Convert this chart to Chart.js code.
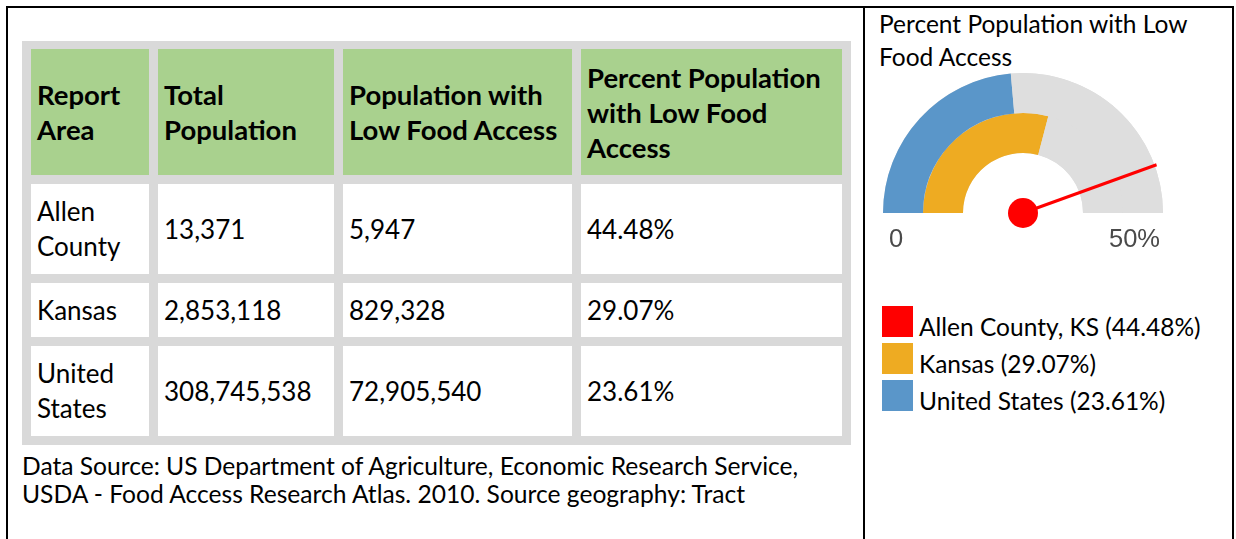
<!DOCTYPE html>
<html>
<head>
<meta charset="utf-8">
<title>Percent Population with Low Food Access</title>
<script src="https://cdn.jsdelivr.net/npm/chart.js@4.4.1/dist/chart.umd.min.js"></script>
<style>
  body { margin: 0; width: 1236px; height: 539px; background: #fff; font-family: Lato, sans-serif; color: #000; position: relative; overflow: hidden; }
  #frame { position: absolute; left: 6px; top: 6px; width: 1228px; height: 540px; border: 2px solid #000; border-bottom: none; box-sizing: border-box; }
  #divider { position: absolute; left: 863px; top: 6px; width: 2px; height: 533px; background: #000; }
  #report { position: absolute; left: 22px; top: 41px; display: grid; grid-template-columns: 118px 176px 229px 261px; grid-template-rows: 126px 90px 54px 90px; gap: 9px; padding: 8px 9px 9px 9px; background: #d9d9d9; }
  #report div { background: #fff; display: flex; align-items: center; padding: 0 6px; font-size: 26px; line-height: 35px; }
  #report div.head { background: #a9d18e; font-weight: 700; font-size: 27.5px; }
  #source { position: absolute; left: 22px; top: 452px; font-size: 24.6px; line-height: 28px; white-space: nowrap; }
  #gauge-title { position: absolute; left: 879px; top: 7px; font-size: 24.5px; line-height: 33px; white-space: nowrap; }
  #gauge-box { position: absolute; left: 866px; top: 8px; width: 366px; height: 250px; }
  #legend { position: absolute; left: 882px; top: 306px; }
  .item { display: flex; height: 31px; margin-bottom: 6px; font-size: 24.5px; line-height: 31px; white-space: nowrap; }
  .swatch { width: 31px; height: 31px; margin-right: 6px; }
  .item span { position: relative; top: 5px; }
</style>
</head>
<body>
<div id="frame"></div>
<div id="divider"></div>
<div id="report"></div>
<div id="source">Data Source: US Department of Agriculture, Economic Research Service,<br>USDA - Food Access Research Atlas. 2010. Source geography: Tract</div>
<div id="gauge-title">Percent Population with Low<br>Food Access</div>
<div id="gauge-box"><canvas id="gauge"></canvas></div>
<div id="legend"></div>

<script>
const headers = [
  ["Report", "Area"],
  ["Total", "Population"],
  ["Population with", "Low Food Access"],
  ["Percent Population", "with Low Food", "Access"],
];
const areas = ["Allen County", "Kansas", "United States"];
const legendNames = ["Allen County, KS", "Kansas", "United States"];
const totalPopulation = [13371, 2853118, 308745538];
const lowAccessPopulation = [5947, 829328, 72905540];
const lowAccessPercent = [44.48, 29.07, 23.61];
const gaugeTicks = ["0", "50%"];
const gaugeMax = 50;
const areaColors = ["#ff0000", "#eeab22", "#5a96c9"];
const trackColor = "#dedede";

// table
const report = document.getElementById("report");
const addCell = (html, cls) => {
  const d = document.createElement("div");
  if (cls) d.className = cls;
  d.innerHTML = "<span>" + html + "</span>";
  report.appendChild(d);
};
headers.forEach((h) => addCell(h.join("<br>"), "head"));
areas.forEach((area, i) => {
  addCell(area);
  addCell(totalPopulation[i].toLocaleString("en-US"));
  addCell(lowAccessPopulation[i].toLocaleString("en-US"));
  addCell(lowAccessPercent[i].toFixed(2) + "%");
});

// legend under the gauge
const legend = document.getElementById("legend");
legendNames.forEach((name, i) => {
  const row = document.createElement("div");
  row.className = "item";
  row.innerHTML = '<div class="swatch" style="background:' + areaColors[i] + '"></div><span>' +
    name + " (" + lowAccessPercent[i].toFixed(2) + "%)</span>";
  legend.appendChild(row);
});

// grey track under both rings so the segment seams don't show
const track = {
  id: "track",
  beforeDatasetsDraw(chart) {
    const outer = chart.getDatasetMeta(0).data[0];
    const inner = chart.getDatasetMeta(1).data[0];
    const ctx = chart.ctx;
    ctx.save();
    ctx.fillStyle = trackColor;
    ctx.beginPath();
    ctx.arc(outer.x, outer.y, outer.outerRadius, Math.PI, Math.PI * 2);
    ctx.arc(outer.x, outer.y, inner.innerRadius, Math.PI * 2, Math.PI, true);
    ctx.closePath();
    ctx.fill();
    ctx.restore();
  },
};

// needle for the county value plus the scale end labels
const needle = {
  id: "needle",
  afterDatasetsDraw(chart) {
    const arc = chart.getDatasetMeta(0).data[0];
    const { x, y, outerRadius, startAngle } = arc;
    const ctx = chart.ctx;
    const angle = startAngle + Math.PI * lowAccessPercent[0] / gaugeMax;
    const len = outerRadius + 2;
    ctx.save();
    ctx.strokeStyle = areaColors[0];
    ctx.lineWidth = 3;
    ctx.beginPath();
    ctx.moveTo(x, y);
    ctx.lineTo(x + Math.cos(angle) * len, y + Math.sin(angle) * len);
    ctx.stroke();
    ctx.fillStyle = areaColors[0];
    ctx.beginPath();
    ctx.arc(x, y, 15, 0, Math.PI * 2);
    ctx.fill();

    ctx.font = '25.5px "Liberation Sans", Arial, sans-serif';
    ctx.fillStyle = "#4a4a4a";
    ctx.textBaseline = "middle";
    ctx.textAlign = "left";
    ctx.fillText(gaugeTicks[0], x - outerRadius + 6, y + 27);
    ctx.textAlign = "right";
    ctx.fillText(gaugeTicks[1], x + outerRadius - 3, y + 27);
    ctx.restore();
  },
};

new Chart(document.getElementById("gauge"), {
  type: "doughnut",
  data: {
    labels: ["value", "rest"],
    datasets: [
      {
        data: [lowAccessPercent[2], gaugeMax - lowAccessPercent[2]],
        backgroundColor: [areaColors[2], trackColor],
        borderWidth: 0,
        hoverOffset: 0,
      },
      {
        data: [lowAccessPercent[1], gaugeMax - lowAccessPercent[1]],
        backgroundColor: [areaColors[1], trackColor],
        borderWidth: 0,
        hoverOffset: 0,
      },
    ],
  },
  options: {
    responsive: true,
    maintainAspectRatio: false,
    animation: false,
    events: [],
    rotation: -90,
    circumference: 180,
    cutout: "42.86%",
    layout: {
      padding: { left: 13, right: 65, top: 65, bottom: 45 },
    },
    plugins: {
      legend: { display: false },
      tooltip: { enabled: false },
      title: { display: false },
    },
  },
  plugins: [track, needle],
});
</script>
</body>
</html>
